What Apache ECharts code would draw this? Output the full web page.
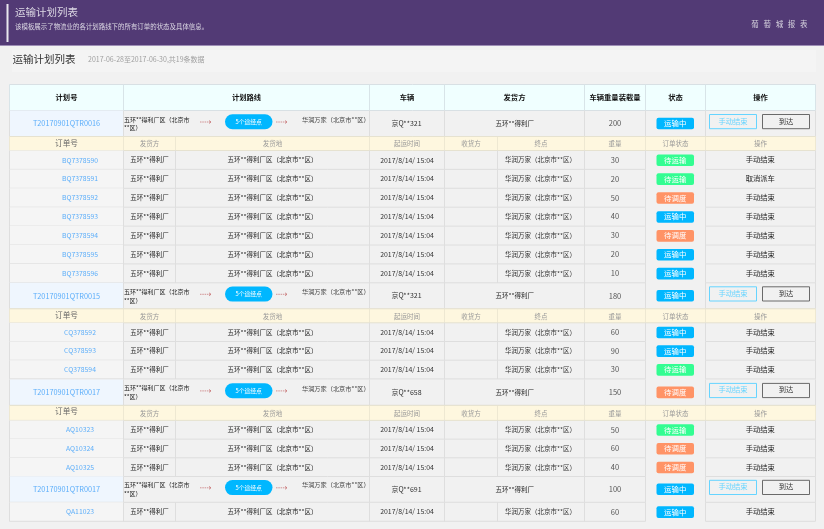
<!DOCTYPE html>
<html>
<head>
<meta charset="utf-8">
<style>html,body{margin:0;padding:0;background:#f1f1f1}#main{width:824px;height:529px;filter:blur(0.3px)}</style>
<script src="https://cdn.jsdelivr.net/npm/echarts@6/dist/echarts.min.js"></script>
</head>
<body>
<div id="main"></div>
<script>
var pageTitle = '运输计划列表'
var pageDesc = '该模板展示了物流业的各计划路线下的所有订单的状态及具体信息。'
var brandChars = ['葡', '萄', '城', '报', '表']
var rangeText = '2017-06-28至2017-06-30,共19条数据'

var planHeads = ['计划号', '计划路线', '车辆', '发货方', '车辆重量装载量', '状态', '操作']
var orderHeads = ['订单号', '发货方', '发货地', '起运时间', '收货方', '终点', '重量', '订单状态', '操作']

var planIds = ['T20170901QTR0016', 'T20170901QTR0015', 'T20170901QTR0017', 'T20170901QTR0017']
var planCars = ['京Q**321', '京Q**321', '京Q**658', '京Q**691']
var planLoads = [200, 180, 150, 100]
var planStates = ['运输中', '运输中', '待调度', '运输中']

var orderIds = [
    ['BQ7378590', 'BQ7378591', 'BQ7378592', 'BQ7378593', 'BQ7378594', 'BQ7378595', 'BQ7378596'],
    ['CQ378592', 'CQ378593', 'CQ378594'],
    ['AQ10323', 'AQ10324', 'AQ10325'],
    ['QA11023']
]
var orderWeights = [
    [30, 20, 50, 40, 30, 20, 10],
    [60, 90, 30],
    [50, 60, 40],
    [60]
]
var orderStates = [
    ['待运输', '待运输', '待调度', '运输中', '待调度', '运输中', '运输中'],
    ['运输中', '运输中', '待运输'],
    ['待运输', '待调度', '待调度'],
    ['运输中']
]
var orderActions = [
    ['手动结束', '取消派车', '手动结束', '手动结束', '手动结束', '手动结束', '手动结束'],
    ['手动结束', '手动结束', '手动结束'],
    ['手动结束', '手动结束', '手动结束'],
    ['手动结束']
]
var shipper = '五环**得利厂'
var origin = '五环**得利厂区（北京市**区）'
var originWrap = ['五环**得利厂区（北京市', '**区）']
var dest = '华润万家（北京市**区）'
var departTime = '2017/8/14/ 15:04'
var viaText = '5个途经点'

// layout
var X = [9.5, 123.5, 175.5, 369.5, 444.5, 497.5, 584.5, 645.5, 705.5, 815.5]
var FONT = '"Noto Sans CJK SC","Microsoft YaHei",sans-serif'
var LINE = '#dedede'
var STATE_COLOR = {'运输中': '#00b7ff', '待运输': '#33fd92', '待调度': '#ff9366'}
var els = []

function rect(x, y, w, h, fill, r, stroke){
    els.push({
        type: 'rect', silent: true,
        shape: {x: x, y: y, width: w, height: h, r: r || 0},
        style: {fill: fill || 'transparent', stroke: stroke || null, lineWidth: 1}
    })
}
function line(x1, y1, x2, y2, color){
    els.push({
        type: 'line', silent: true,
        shape: {x1: x1, y1: y1, x2: x2, y2: y2},
        style: {stroke: color || LINE, lineWidth: 1}
    })
}
function text(x, y, str, size, color, align, weight){
    els.push({
        type: 'text', silent: true,
        style: {
            x: x, y: y, text: str, fill: color,
            font: (weight || 'normal') + ' ' + size + 'px ' + FONT,
            textAlign: align || 'center', textVerticalAlign: 'middle'
        }
    })
}
function arrow(x, y){
    els.push({
        type: 'line', silent: true,
        shape: {x1: x, y1: y, x2: x + 11, y2: y},
        style: {stroke: '#c4696a', lineWidth: 0.7, lineDash: [1.5, 0.8]}
    })
    els.push({
        type: 'polyline', silent: true,
        shape: {points: [[x + 9, y - 1.5], [x + 11, y], [x + 9, y + 1.5]]},
        style: {stroke: '#c4696a', lineWidth: 0.7, fill: null}
    })
}
function badge(y, state){
    rect(656.5, y - 5.8, 37.5, 11.6, STATE_COLOR[state], 2)
    text(675.2, y - 0.3, state, 7.4, '#ffffff')
}

function drawHead(){
    rect(0, 0, 824, 45, '#523a75')
    line(0, 45.5, 824, 45.5, '#9d8db5')
    rect(6.5, 4, 2, 38, '#e8e6ee')
    text(15, 12, pageTitle, 10.5, '#dcd8e4', 'left')
    text(15, 27, pageDesc, 6.45, '#dcd8e4', 'left')
    brandChars.forEach(function(c, i){
        text(755 + i * 12.2, 24.3, c, 7.5, '#d6d2de')
    })
    rect(12, 50, 804, 22, '#f4f4f4')
    text(12.5, 59, pageTitle, 10.5, '#333333', 'left')
    text(88, 59, rangeText, 7, '#a0a0a0', 'left')
}

function drawPlanHead(){
    var y = 84.5, h = 26
    var edges = [X[0], X[1], X[3], X[4], X[6], X[7], X[8], X[9]]
    rect(X[0], y, X[9] - X[0], h, '#f0ffff')
    line(X[0], y, X[9], y, '#d8e0e4')
    line(X[0], y + h, X[9], y + h, '#d8e0e4')
    edges.forEach(function(e){ line(e, y, e, y + h, '#d8e4e8') })
    planHeads.forEach(function(t, i){
        text((edges[i] + edges[i + 1]) / 2, y + 13, t, 7.3, '#111111', 'center', 'bold')
    })
}

function drawPlan(i, y, h){
    var c = y + h / 2
    rect(X[0], y, X[1] - X[0], h, '#eff6fe')
    line(X[0], y + h, X[7], y + h)
    line(X[8], y + h, X[9], y + h)
    ;[X[0], X[1], X[3], X[4], X[6], X[7], X[8], X[9]].forEach(function(e){ line(e, y, e, y + h) })
    text(66.5, c, planIds[i], 7.3, '#5caefa')
    text(124, y + 8.8, originWrap[0], 6, '#222222', 'left')
    text(124, y + 17.5, originWrap[1], 6, '#222222', 'left')
    arrow(200, y + 11.5)
    rect(225, y + 3.8, 47.5, 15, '#00b7ff', 7.5)
    text(248.7, y + 11.3, viaText, 5.8, '#ffffff')
    arrow(276, y + 11.5)
    text(302, y + 8.8, dest, 6.2, '#444444', 'left')
    text(406.5, c, planCars[i], 7, '#333333')
    text(514.7, c, shipper, 6.5, '#222222')
    text(615, c, planLoads[i], 7.5, '#555555')
    badge(c, planStates[i])
    rect(709.5, y + 4, 47, 14.2, null, 0, '#66d4ff')
    text(733, y + 10.3, '手动结束', 7.3, '#66d4ff')
    rect(762.5, y + 4, 47, 14.2, null, 0, '#6a6a6a')
    text(786, y + 10.3, '到达', 7.3, '#333333')
}

function drawOrderHead(y, h){
    rect(X[0], y, X[9] - X[0], h, '#fef7df')
    X.forEach(function(e){ line(e, y, e, y + h, '#eee8d2') })
    line(X[0], y, X[9], y, '#e6e2d0')
    line(X[0], y + h, X[9], y + h, '#e6e2d0')
    orderHeads.forEach(function(t, i){
        if(i === 0) text(66.5, y + 6.2, t, 7.6, '#666666')
        else text((X[i] + X[i + 1]) / 2, y + h / 2 + 0.3, t, 6.5, '#999999')
    })
}

function drawOrders(g, y, h){
    orderIds[g].forEach(function(id, k){
        var top = y + k * h, c = top + h / 2
        rect(X[0], top, X[1] - X[0], h, '#f5f5f5')
        X.forEach(function(e){ line(e, top, e, top + h) })
        line(X[0], top + h, X[7], top + h)
        line(X[8], top + h, X[9], top + h)
        text(80, c, id, 6.8, '#5caefa')
        text(149.5, c, shipper, 6.5, '#222222')
        text(272.5, c, origin, 6.5, '#222222')
        text(407, c, departTime, 6.9, '#333333')
        text(540.5, c, dest, 6.5, '#333333')
        text(615, c, orderWeights[g][k], 7.5, '#555555')
        badge(c + 0.3, orderStates[g][k])
        text(760.3, c - 0.3, orderActions[g][k], 7.3, '#222222')
    })
}

drawHead()
drawPlanHead()
// the four groups of the table, y of each plan row
var groupTop = [110.5, 282.8, 379.4, 476.3]
var subHeadH = [14, 14, 15, null]
var rowH = [18.9, 18.7, 18.7, 19]
planIds.forEach(function(id, i){
    var y = groupTop[i], h = 26
    drawPlan(i, y, h)
    y += h
    if(subHeadH[i]){
        drawOrderHead(y, subHeadH[i])
        y += subHeadH[i]
    }
    drawOrders(i, y, rowH[i])
})

var myChart = echarts.init(document.getElementById('main'))
myChart.setOption({
    backgroundColor: '#f1f1f1',
    animation: false,
    graphic: {elements: els}
})
</script>
</body>
</html>
